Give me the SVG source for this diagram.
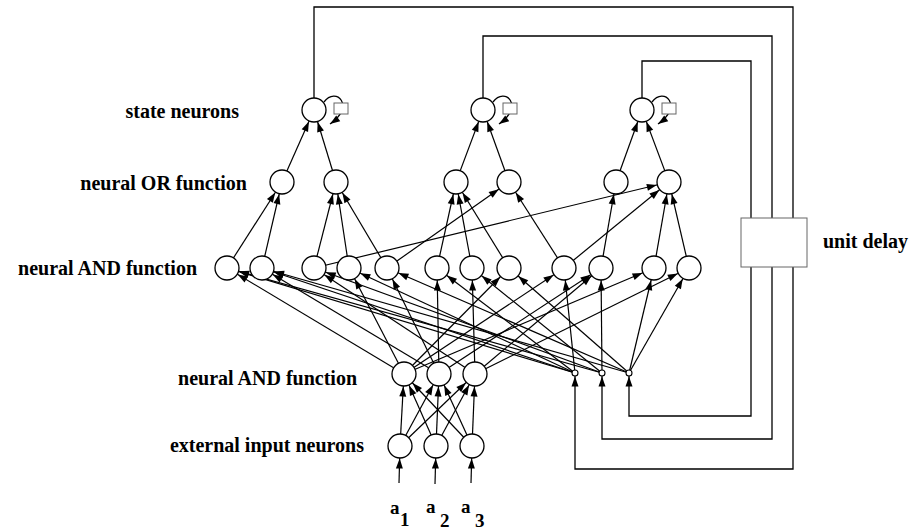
<svg xmlns="http://www.w3.org/2000/svg" width="911" height="531" viewBox="0 0 911 531">
  <style>
    .n { fill: #fff; stroke: #000; stroke-width: 1.3; }
    .s { fill: #fff; stroke: #000; stroke-width: 1.1; }
    .e { stroke: #000; stroke-width: 1.2; fill: none; marker-end: url(#ah); }
    .fb { stroke: #000; stroke-width: 1.3; fill: none; marker-end: url(#as); }
    .loop { stroke: #000; stroke-width: 1.3; fill: none; marker-end: url(#at); }
    .box { fill: #fff; stroke: #666; stroke-width: 1; }
    .lbl { font-family: "Liberation Serif", "Times New Roman", serif; font-weight: bold; font-size: 20px; fill: #000; }
    .sym { font-family: "Liberation Serif", "Times New Roman", serif; font-weight: bold; font-size: 19px; fill: #000; }
  </style>
  <defs>
    <!-- arrowhead that stops on the rim of a 12px neuron -->
    <marker id="ah" markerWidth="10" markerHeight="7" refX="22.5" refY="3.5" orient="auto" markerUnits="userSpaceOnUse" overflow="visible">
      <path d="M0,0 L10,3.5 L0,7 Z" fill="#000"/>
    </marker>
    <!-- arrowhead that stops on the rim of a small 3px neuron -->
    <marker id="as" markerWidth="10" markerHeight="7" refX="13.5" refY="3.5" orient="auto" markerUnits="userSpaceOnUse" overflow="visible">
      <path d="M0,0 L10,3.5 L0,7 Z" fill="#000"/>
    </marker>
    <!-- arrowhead whose tip sits on the path end -->
    <marker id="at" markerWidth="10" markerHeight="7" refX="10" refY="3.5" orient="auto" markerUnits="userSpaceOnUse" overflow="visible">
      <path d="M0,0 L10,3.5 L0,7 Z" fill="#000"/>
    </marker>
  </defs>
  <rect width="911" height="531" fill="#fff"/>

  <!-- layer labels -->
  <g id="labels">
    <text class="lbl" x="239" y="118" text-anchor="end">state neurons</text>
    <text class="lbl" x="247" y="190" text-anchor="end">neural OR function</text>
    <text class="lbl" x="197" y="275" text-anchor="end">neural AND function</text>
    <text class="lbl" x="357" y="385" text-anchor="end">neural AND function</text>
    <text class="lbl" x="364" y="452" text-anchor="end">external input neurons</text>
    <text class="lbl" x="823" y="248">unit delay</text>
    <text class="sym" x="390" y="514">a</text><text class="sym" x="400" y="526">1</text>
    <text class="sym" x="426" y="513">a</text><text class="sym" x="440" y="527">2</text>
    <text class="sym" x="461" y="513">a</text><text class="sym" x="475" y="527">3</text>
  </g>

  <g id="connectors">
    <!-- feedback from state neurons through the unit delay -->
    <path class="fb" d="M314,110 V7 H793 V469 H575 V373"/>
    <path class="fb" d="M483,110 V36 H772 V439 H602 V373"/>
    <path class="fb" d="M642,110 V61 H751 V416 H629 V373"/>

    <!-- self loops on state neurons -->
    <path class="loop" d="M324,102 C336,86 356,106 330,124"/>
    <path class="loop" d="M493,102 C505,86 525,106 499,124"/>
    <path class="loop" d="M652,102 C664,86 684,106 658,124"/>

    <!-- OR -> state -->
    <line class="e" x1="282" y1="182" x2="314" y2="110"/>
    <line class="e" x1="336" y1="182" x2="314" y2="110"/>
    <line class="e" x1="456" y1="182" x2="483" y2="110"/>
    <line class="e" x1="509" y1="182" x2="483" y2="110"/>
    <line class="e" x1="616" y1="182" x2="642" y2="110"/>
    <line class="e" x1="669" y1="182" x2="642" y2="110"/>

    <!-- AND -> OR -->
    <line class="e" x1="227" y1="268" x2="282" y2="182"/>
    <line class="e" x1="262" y1="268" x2="282" y2="182"/>
    <line class="e" x1="314" y1="268" x2="336" y2="182"/>
    <line class="e" x1="349" y1="268" x2="336" y2="182"/>
    <line class="e" x1="387" y1="268" x2="336" y2="182"/>
    <line class="e" x1="437" y1="268" x2="456" y2="182"/>
    <line class="e" x1="472" y1="268" x2="456" y2="182"/>
    <line class="e" x1="509" y1="268" x2="456" y2="182"/>
    <line class="e" x1="387" y1="268" x2="509" y2="182"/>
    <line class="e" x1="564" y1="268" x2="509" y2="182"/>
    <line class="e" x1="601" y1="268" x2="616" y2="182"/>
    <line class="e" x1="314" y1="268" x2="669" y2="182"/>
    <line class="e" x1="564" y1="268" x2="669" y2="182"/>
    <line class="e" x1="654" y1="268" x2="669" y2="182"/>
    <line class="e" x1="689" y1="268" x2="669" y2="182"/>

    <!-- input conjunctions -> AND -->
    <line class="e" x1="404" y1="374" x2="227" y2="268"/>
    <line class="e" x1="439" y1="374" x2="262" y2="268"/>
    <line class="e" x1="475" y1="374" x2="314" y2="268"/>
    <line class="e" x1="404" y1="374" x2="349" y2="268"/>
    <line class="e" x1="439" y1="374" x2="387" y2="268"/>
    <line class="e" x1="439" y1="374" x2="437" y2="268"/>
    <line class="e" x1="475" y1="374" x2="472" y2="268"/>
    <line class="e" x1="404" y1="374" x2="509" y2="268"/>
    <line class="e" x1="404" y1="374" x2="564" y2="268"/>
    <line class="e" x1="439" y1="374" x2="601" y2="268"/>
    <line class="e" x1="475" y1="374" x2="601" y2="268"/>
    <line class="e" x1="404" y1="374" x2="654" y2="268"/>
    <line class="e" x1="475" y1="374" x2="689" y2="268"/>

    <!-- delayed state -> AND -->
    <line class="e" x1="575" y1="373" x2="227" y2="268"/>
    <line class="e" x1="602" y1="373" x2="227" y2="268"/>
    <line class="e" x1="575" y1="373" x2="262" y2="268"/>
    <line class="e" x1="629" y1="373" x2="262" y2="268"/>
    <line class="e" x1="602" y1="373" x2="314" y2="268"/>
    <line class="e" x1="575" y1="373" x2="349" y2="268"/>
    <line class="e" x1="629" y1="373" x2="387" y2="268"/>
    <line class="e" x1="575" y1="373" x2="437" y2="268"/>
    <line class="e" x1="602" y1="373" x2="472" y2="268"/>
    <line class="e" x1="629" y1="373" x2="509" y2="268"/>
    <line class="e" x1="575" y1="373" x2="564" y2="268"/>
    <line class="e" x1="602" y1="373" x2="601" y2="268"/>
    <line class="e" x1="629" y1="373" x2="654" y2="268"/>
    <line class="e" x1="629" y1="373" x2="689" y2="268"/>

    <!-- external inputs -> input conjunctions -->
    <line class="e" x1="400" y1="446" x2="404" y2="374"/>
    <line class="e" x1="400" y1="446" x2="439" y2="374"/>
    <line class="e" x1="400" y1="446" x2="475" y2="374"/>
    <line class="e" x1="436" y1="446" x2="404" y2="374"/>
    <line class="e" x1="436" y1="446" x2="439" y2="374"/>
    <line class="e" x1="436" y1="446" x2="475" y2="374"/>
    <line class="e" x1="472" y1="446" x2="404" y2="374"/>
    <line class="e" x1="472" y1="446" x2="439" y2="374"/>
    <line class="e" x1="472" y1="446" x2="475" y2="374"/>

    <!-- symbol inputs a1..a3 -->
    <line class="e" x1="399" y1="483" x2="400" y2="446"/>
    <line class="e" x1="435" y1="484" x2="436" y2="446"/>
    <line class="e" x1="471" y1="483" x2="472" y2="446"/>
  </g>

  <!-- state neurons with their delay boxes -->
  <g id="state-1"><circle class="n" cx="314" cy="110" r="12"/><rect class="box" x="334" y="103" width="14" height="11"/></g>
  <g id="state-2"><circle class="n" cx="483" cy="110" r="12"/><rect class="box" x="503" y="103" width="14" height="11"/></g>
  <g id="state-3"><circle class="n" cx="642" cy="110" r="12"/><rect class="box" x="662" y="103" width="14" height="11"/></g>

  <!-- OR neurons -->
  <g id="or-1"><circle class="n" cx="282" cy="182" r="12"/></g>
  <g id="or-2"><circle class="n" cx="336" cy="182" r="12"/></g>
  <g id="or-3"><circle class="n" cx="456" cy="182" r="12"/></g>
  <g id="or-4"><circle class="n" cx="509" cy="182" r="12"/></g>
  <g id="or-5"><circle class="n" cx="616" cy="182" r="12"/></g>
  <g id="or-6"><circle class="n" cx="669" cy="182" r="12"/></g>

  <!-- AND neurons -->
  <g id="and-1"><circle class="n" cx="227" cy="268" r="12"/></g>
  <g id="and-2"><circle class="n" cx="262" cy="268" r="12"/></g>
  <g id="and-3"><circle class="n" cx="314" cy="268" r="12"/></g>
  <g id="and-4"><circle class="n" cx="349" cy="268" r="12"/></g>
  <g id="and-5"><circle class="n" cx="387" cy="268" r="12"/></g>
  <g id="and-6"><circle class="n" cx="437" cy="268" r="12"/></g>
  <g id="and-7"><circle class="n" cx="472" cy="268" r="12"/></g>
  <g id="and-8"><circle class="n" cx="509" cy="268" r="12"/></g>
  <g id="and-9"><circle class="n" cx="564" cy="268" r="12"/></g>
  <g id="and-10"><circle class="n" cx="601" cy="268" r="12"/></g>
  <g id="and-11"><circle class="n" cx="654" cy="268" r="12"/></g>
  <g id="and-12"><circle class="n" cx="689" cy="268" r="12"/></g>

  <!-- input conjunction neurons -->
  <g id="in-and-1"><circle class="n" cx="404" cy="374" r="12"/></g>
  <g id="in-and-2"><circle class="n" cx="439" cy="374" r="12"/></g>
  <g id="in-and-3"><circle class="n" cx="475" cy="374" r="12"/></g>

  <!-- delayed state taps -->
  <g id="tap-1"><circle class="s" cx="575" cy="373" r="3"/></g>
  <g id="tap-2"><circle class="s" cx="602" cy="373" r="3"/></g>
  <g id="tap-3"><circle class="s" cx="629" cy="373" r="3"/></g>

  <!-- external input neurons -->
  <g id="input-1"><circle class="n" cx="400" cy="446" r="12"/></g>
  <g id="input-2"><circle class="n" cx="436" cy="446" r="12"/></g>
  <g id="input-3"><circle class="n" cx="472" cy="446" r="12"/></g>

  <g id="unit-delay"><rect class="box" x="741" y="218" width="66" height="49"/></g>
</svg>
